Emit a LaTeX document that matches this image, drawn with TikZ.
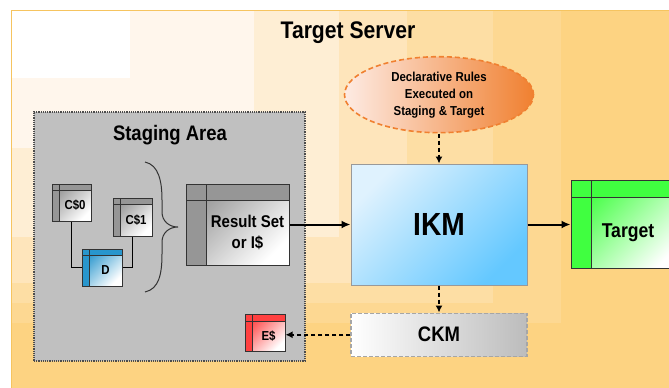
\documentclass[tikz,border=0pt]{standalone}
\usepackage{fontspec}
\setmainfont[FakeStretch=0.88]{Liberation Sans}
\usetikzlibrary{shapes,calc,arrows,arrows.meta,positioning}

\definecolor{bgbase}{RGB}{253,211,130}
\definecolor{bgsix}{RGB}{253,216,146}
\definecolor{bgfive}{RGB}{253,222,164}
\definecolor{bgfour}{RGB}{254,229,187}
\definecolor{bgthree}{RGB}{254,238,212}
\definecolor{bgtwo}{RGB}{255,246,236}
\definecolor{bgline}{RGB}{246,196,96}
\definecolor{stagegray}{RGB}{192,192,192}
\definecolor{tblgray}{RGB}{150,150,150}
\definecolor{tblblue}{RGB}{40,150,205}
\definecolor{tblred}{RGB}{255,64,64}
\definecolor{tblgreen}{RGB}{64,255,64}
\definecolor{ikmblue}{RGB}{100,200,255}
\definecolor{ikmlight}{RGB}{175,222,252}
\definecolor{rulesorange}{RGB}{240,128,48}
\definecolor{rulespink}{RGB}{252,215,200}
\definecolor{ckmgray}{RGB}{188,188,188}

\tikzset{
  tbl/.style n args={3}{rectangle, draw=black!80, line width=1pt, inner sep=0pt,
    top color=#1, bottom color=white, shading angle=45,
    path picture={
      \coordinate (nw) at (path picture bounding box.north west);
      \coordinate (se) at (path picture bounding box.south east);
      \fill[#1] (nw) rectangle ($(se |- nw)+(0,#2)$);
      \fill[#1] (nw) rectangle ($(nw |- se)+(#3,0)$);
      \draw[black!80, line width=1pt] ($(nw)+(0,#2)$) -- ($(se |- nw)+(0,#2)$)
        ($(nw)+(#3,0)$) -- ($(nw |- se)+(#3,0)$);
    }},
  smalltbl/.style={minimum width=40pt, minimum height=37pt},
  tbltxt/.style={font=\bfseries\fontsize{13}{15}\selectfont, inner sep=0pt},
  flow/.style={draw, line width=2pt, -{Latex[length=9pt,width=8pt]}},
  dflow/.style={draw, line width=1.6pt, dash pattern=on 4pt off 3pt, -{Latex[length=7pt,width=7pt]}},
  link/.style={draw, line width=1pt}
}

\begin{document}
\begin{tikzpicture}[x=1pt, y=-1pt,
    title/.style={font=\bfseries\fontsize{24}{28}\selectfont},
    stage/.style={rectangle, fill=stagegray, draw=black!70, line width=1.2pt,
                  densely dotted, minimum width=271pt, minimum height=249pt},
    ikmbox/.style={rectangle, draw=black!40, line width=1pt,
                   top color=white!60!ikmlight, middle color=ikmlight, bottom color=ikmblue, shading angle=45,
                   minimum width=176pt, minimum height=121pt,
                   font=\bfseries\fontsize{32}{36}\selectfont},
    ckmbox/.style={rectangle, draw=black!35, line width=1.5pt, dash pattern=on 4pt off 2pt,
                   left color=white, right color=ckmgray,
                   minimum width=176pt, minimum height=43pt,
                   font=\bfseries\fontsize{21}{24}\selectfont},
    rules/.style={ellipse, draw=rulesorange, line width=1.6pt, dash pattern=on 5pt off 3pt,
                  left color=rulespink!50!white, middle color=rulespink, right color=rulesorange,
                  minimum width=189pt, minimum height=76pt, inner sep=0pt, align=center,
                  font=\bfseries\fontsize{13}{17}\selectfont}]
  \useasboundingbox (0,0) rectangle (669,388);

  % background of the server
  \fill[bgbase] (11,10) rectangle (669,388);
  \fill[bgsix] (11,10) rectangle (561,323);
  \fill[bgfive] (11,10) rectangle (493,303);
  \fill[bgfour] (11,10) rectangle (407,283);
  \fill[bgthree] (11,10) rectangle (339,237);
  \fill[bgtwo] (11,10) rectangle (254,148);
  \fill[white] (11,10) rectangle (130,78);
  \draw[bgline, line width=1pt] (669,10) -- (11,10) -- (11,388);

  \node[title] (server-title) at (348,33) {Target Server};

  % staging area
  \node[stage] (staging) at (169.5,236.5) {};
  \node[title, font=\bfseries\fontsize{21}{24}\selectfont] (staging-title) at (170,135) {Staging Area};

  \node[tbl={tblgray}{6}{7}, smalltbl, minimum width=39pt] (c0) at (71.5,202.5) {};
  \node[tbltxt] (c0-txt) at ($([shift={(7,6)}]c0.north west)!0.5!(c0.south east)$) {C\$0};
  \node[tbl={tblgray}{6}{7}, smalltbl, minimum width=39pt, minimum height=38pt] (c1) at (132.5,217) {};
  \node[tbltxt] (c1-txt) at ($([shift={(7,6)}]c1.north west)!0.5!(c1.south east)$) {C\$1};
  \node[tbl={tblblue}{6}{7}, smalltbl] (d) at (102,267.5) {};
  \node[tbltxt] (d-txt) at ($([shift={(7,6)}]d.north west)!0.5!(d.south east)$) {D};
  \draw[link] (c0.south) |- (d.west);
  \draw[link] (c1.south) |- (d.east);

  \draw[line width=1pt, black!80] (145,162) .. controls (159,165) and (162,182) .. (162,200)
    -- (162,212) .. controls (162,221) and (169,227) .. (178,227)
    .. controls (169,227) and (162,233) .. (162,242)
    -- (162,254) .. controls (162,274) and (159,289) .. (145,292);

  % main flow
  \node[ikmbox] (ikm) at (439,224.5) {IKM};
  \node[tbl={tblgray}{16}{20}, minimum width=103pt, minimum height=81pt, left=61pt of ikm] (rs) {};
  \node[tbltxt, align=center, font=\bfseries\fontsize{17}{21}\selectfont] (rs-txt)
    at ($([shift={(20,16)}]rs.north west)!0.5!(rs.south east)$) {Result Set\\or I\$};
  \node[rules, above=30pt of ikm] (rules) {Declarative Rules\\Executed on\\Staging \& Target};
  \node[ckmbox, below=27pt of ikm] (ckm) {CKM};
  \node[tbl={tblgreen}{17}{20}, minimum width=114pt, minimum height=88pt, right=43pt of ikm] (tg) {};
  \node[tbltxt, font=\bfseries\fontsize{20}{24}\selectfont] (tg-txt)
    at ($([yshift=-17pt]tg.north)!0.5!(tg.south)$) {Target};
  \node[tbl={tblred}{7}{7}, smalltbl] (es) at (265,332.5) {};
  \node[tbltxt] (es-txt) at ($([shift={(7,7)}]es.north west)!0.5!(es.south east)$) {E\$};

  \draw[flow] (rs.east) -- (ikm.west);
  \draw[flow] (ikm.east) -- (ikm.east -| tg.west);
  \draw[dflow] (rules.south) -- (ikm.north);
  \draw[dflow] (ikm.south) -- (ckm.north);
  \draw[dflow] (ckm.west) -- (ckm.west -| es.east);
\end{tikzpicture}
\end{document}
